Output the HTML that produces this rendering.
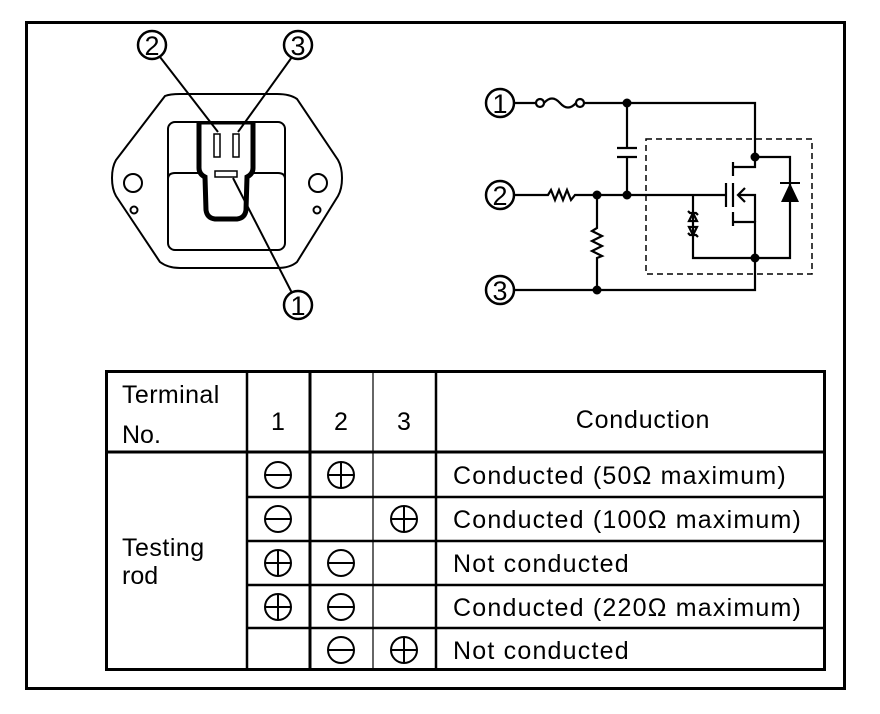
<!DOCTYPE html>
<html><head><meta charset="utf-8"><style>html,body{margin:0;padding:0;background:#fff}svg{display:block}</style></head>
<body>
<svg width="880" height="714" viewBox="0 0 880 714" xmlns="http://www.w3.org/2000/svg" font-family="Liberation Sans, sans-serif">
<rect x="0" y="0" width="880" height="714" fill="#fff"/>
<rect x="26.5" y="22.5" width="818" height="666" fill="none" stroke="#000" stroke-width="3"/>

<!-- Left connector figure -->
<g fill="none" stroke="#000" stroke-width="2">
<path d="M165,96 Q170,94 180,94 L277,94 Q290,94 297,99 L338,160 Q342,167 342,178 Q342,189 338,196 L297,262 Q290,268 277,268 L180,268 Q168,268 160,262 L116,196 Q112,189 112,178 Q112,167 116,160 Z"/>
<rect x="168" y="122" width="117" height="128" rx="7"/>
<path d="M168,179 Q168,173 175,173 L198,173 M252,173 L278,173 Q285,173 285,179"/>
<circle cx="133" cy="183" r="9"/>
<circle cx="134" cy="210" r="3.5"/>
<circle cx="318" cy="183" r="9"/>
<circle cx="317" cy="210" r="3.5"/>
<path d="M199,122 L199,168 Q199,174 205,177 L206,210 Q207,218 215,219 L237,219 Q245,218 246,210 L247,177 Q253,174 253,168 L253,122" stroke-width="5"/>
<line x1="199" y1="123" x2="253" y2="123" stroke-width="3"/>
<rect x="214" y="134" width="6" height="23" stroke-width="1.5"/>
<rect x="233" y="134" width="6" height="23" stroke-width="1.5"/>
<rect x="215" y="171" width="22" height="6" stroke-width="1.5"/>
<line x1="160" y1="57" x2="218" y2="132"/>
<line x1="292" y1="57" x2="238" y2="132"/>
<line x1="292" y1="293" x2="233" y2="178"/>
<circle cx="152" cy="45" r="14" fill="#fff" stroke-width="2.5"/>
<circle cx="298" cy="45" r="14" fill="#fff" stroke-width="2.5"/>
<circle cx="298" cy="305" r="14" fill="#fff" stroke-width="2.5"/>
</g>
<g font-size="27" text-anchor="middle">
<text x="152" y="55">2</text>
<text x="298" y="55">3</text>
<text x="298" y="315">1</text>
</g>

<!-- Circuit -->
<g fill="none" stroke="#000" stroke-width="2.2">
<circle cx="500" cy="103" r="14" stroke-width="2.5"/>
<circle cx="500" cy="195" r="14" stroke-width="2.5"/>
<circle cx="500" cy="290" r="14" stroke-width="2.5"/>
<line x1="514" y1="103" x2="536" y2="103"/>
<circle cx="540" cy="103" r="4"/>
<path d="M544,103 Q552,94 560,103 Q568,112 576,103"/>
<circle cx="580" cy="103" r="4"/>
<path d="M584,103 L755,103 L755,167 L733,167"/>
<line x1="627" y1="103" x2="627" y2="148"/>
<line x1="617" y1="148" x2="637" y2="148"/>
<line x1="617" y1="157" x2="637" y2="157"/>
<line x1="627" y1="157" x2="627" y2="195"/>
<path d="M514,195 L548,195 L551,190 L555,200 L559,190 L563,200 L567,190 L571,200 L575,195 L725,195"/>
<path d="M597,195 L597,228 L592,231 L602,236 L592,241 L602,246 L592,251 L602,256 L597,258 L597,290"/>
<path d="M514,290 L755,290 L755,222 L733,222"/>
<line x1="726" y1="183" x2="726" y2="207"/>
<line x1="733" y1="162" x2="733" y2="176"/>
<line x1="733" y1="183" x2="733" y2="207"/>
<line x1="733" y1="212" x2="733" y2="226"/>
<path d="M745,188 L738,195 L745,202 M738,195 L755,195 L755,222"/>
<path d="M755,157 L790,157 L790,258 L693,258 L693,195"/>
<rect x="646" y="139" width="166" height="135" stroke-dasharray="6,4" stroke-width="1.5"/>
<path d="M688,211 L690,213 L696,213 L698,215 M689,221 L697,221 L693,213 Z"/>
<path d="M688,227 L690,229 L696,229 L698,231 M689,237 L697,237 L693,229 Z" transform="rotate(180 693 232)"/>
</g>
<polygon points="790,183 781,202 799,202" fill="#000"/>
<line x1="780" y1="183" x2="800" y2="183" stroke="#000" stroke-width="2"/>
<g fill="#000">
<circle cx="627" cy="103" r="4.5"/>
<circle cx="755" cy="157" r="4.5"/>
<circle cx="597" cy="195" r="4.5"/>
<circle cx="627" cy="195" r="4.5"/>
<circle cx="755" cy="258" r="4.5"/>
<circle cx="597" cy="290" r="4.5"/>
</g>
<g font-size="27" text-anchor="middle">
<text x="500" y="113">1</text>
<text x="500" y="205">2</text>
<text x="500" y="300">3</text>
</g>

<!-- Table -->
<g stroke="#000" fill="none">
<rect x="106.5" y="371.5" width="718" height="298" stroke-width="3"/>
<line x1="106" y1="452" x2="826" y2="452" stroke-width="3"/>
<line x1="247" y1="371" x2="247" y2="670" stroke-width="2.5"/>
<line x1="310" y1="371" x2="310" y2="670" stroke-width="3"/>
<line x1="373" y1="371" x2="373" y2="670" stroke-width="1.2"/>
<line x1="436" y1="371" x2="436" y2="670" stroke-width="2.5"/>
<line x1="247" y1="497" x2="826" y2="497" stroke-width="2.5"/>
<line x1="247" y1="541" x2="826" y2="541" stroke-width="2.5"/>
<line x1="247" y1="585" x2="826" y2="585" stroke-width="2.5"/>
<line x1="247" y1="628" x2="826" y2="628" stroke-width="2.5"/>
</g>
<g stroke="#000" fill="none" stroke-width="2">
<circle cx="278" cy="475" r="13"/><line x1="265" y1="475" x2="291" y2="475"/>
<circle cx="341" cy="475" r="13"/><line x1="328" y1="475" x2="354" y2="475"/><line x1="341" y1="462" x2="341" y2="488"/>
<circle cx="278" cy="519" r="13"/><line x1="265" y1="519" x2="291" y2="519"/>
<circle cx="404" cy="519" r="13"/><line x1="391" y1="519" x2="417" y2="519"/><line x1="404" y1="506" x2="404" y2="532"/>
<circle cx="278" cy="563" r="13"/><line x1="265" y1="563" x2="291" y2="563"/><line x1="278" y1="550" x2="278" y2="576"/>
<circle cx="341" cy="563" r="13"/><line x1="328" y1="563" x2="354" y2="563"/>
<circle cx="278" cy="607" r="13"/><line x1="265" y1="607" x2="291" y2="607"/><line x1="278" y1="594" x2="278" y2="620"/>
<circle cx="341" cy="607" r="13"/><line x1="328" y1="607" x2="354" y2="607"/>
<circle cx="341" cy="650" r="13"/><line x1="328" y1="650" x2="354" y2="650"/>
<circle cx="404" cy="650" r="13"/><line x1="391" y1="650" x2="417" y2="650"/><line x1="404" y1="637" x2="404" y2="663"/>
</g>
<g font-size="25" fill="#000">
<text x="122" y="403" letter-spacing="0.4">Terminal</text>
<text x="122" y="443">No.</text>
<text x="278" y="430" text-anchor="middle">1</text>
<text x="341" y="430" text-anchor="middle">2</text>
<text x="404" y="430" text-anchor="middle">3</text>
<text x="643" y="428" text-anchor="middle" letter-spacing="0.8">Conduction</text>
<text x="122" y="556" letter-spacing="0.5">Testing</text>
<text x="122" y="584">rod</text>
<g letter-spacing="1.2">
<text x="453" y="484">Conducted (50Ω maximum)</text>
<text x="453" y="528">Conducted (100Ω maximum)</text>
<text x="453" y="572">Not conducted</text>
<text x="453" y="616">Conducted (220Ω maximum)</text>
<text x="453" y="659">Not conducted</text>
</g>
</g>
</svg>
</body></html>
